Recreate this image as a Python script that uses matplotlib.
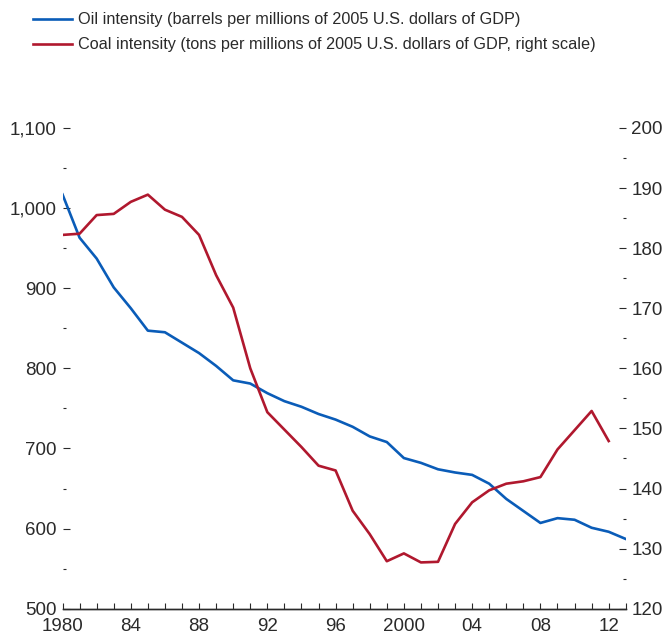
import matplotlib.pyplot as plt
from matplotlib.ticker import MultipleLocator, FuncFormatter

years = list(range(1980, 2014))

# barrels per million 2005 USD of GDP (left axis)
oil = [1017, 963, 937, 901, 875, 847, 845, 832, 819, 803,
       785, 781, 769, 759, 752, 743, 736, 727, 715, 708,
       688, 682, 674, 670, 667, 656, 637, 622, 607, 613,
       611, 601, 596, 587]

# tons per million 2005 USD of GDP (right axis)
coal_years = list(range(1980, 2013))
coal = [182.2, 182.4, 185.5, 185.7, 187.7, 188.9, 186.4, 185.2, 182.2, 175.5,
        170.1, 160.0, 152.7, 149.8, 146.9, 143.8, 143.0, 136.3, 132.4, 127.9,
        129.2, 127.7, 127.8, 134.1, 137.7, 139.7, 140.8, 141.2, 141.9, 146.5,
        149.7, 152.9, 147.9]

oil_label = "Oil intensity (barrels per millions of 2005 U.S. dollars of GDP)"
coal_label = "Coal intensity (tons per millions of 2005 U.S. dollars of GDP, right scale)"
xtick_years = [1980, 1984, 1988, 1992, 1996, 2000, 2004, 2008, 2012]
xtick_labels = ["1980", "84", "88", "92", "96", "2000", "04", "08", "12"]

blue = "#0a5cb8"
red = "#b0182e"
txt = "#2a2a2a"

plt.rcParams['font.family'] = ['Liberation Sans', 'DejaVu Sans']

fig = plt.figure(figsize=(6.65, 6.41), dpi=100)
ax = fig.add_axes([0.094, 0.0504, 0.847, 0.75])
ax2 = ax.twinx()

l1, = ax.plot(years, oil, color=blue, lw=1.9, label=oil_label)
l2, = ax2.plot(coal_years, coal, color=red, lw=1.9, label=coal_label)

ax.set_xlim(1980, 2013)
ax.set_ylim(500, 1100)
ax2.set_ylim(120, 200)

for a in (ax, ax2):
    for s in ['top', 'left', 'right']:
        a.spines[s].set_visible(False)
    a.spines['bottom'].set_color(txt)
    a.spines['bottom'].set_linewidth(1.0)

ax.yaxis.set_major_locator(MultipleLocator(100))
ax.yaxis.set_minor_locator(MultipleLocator(50))
ax.yaxis.set_major_formatter(FuncFormatter(lambda v, p: f"{int(v):,}"))
ax2.yaxis.set_major_locator(MultipleLocator(10))
ax2.yaxis.set_minor_locator(MultipleLocator(5))

ax.set_xticks(xtick_years)
ax.set_xticklabels(xtick_labels)
ax.xaxis.set_minor_locator(MultipleLocator(1))

fs = 13.5
ax.tick_params(axis='x', which='both', direction='in', length=4.5, width=0.8,
               color=txt, labelsize=fs, labelcolor=txt, pad=7)
ax.tick_params(axis='y', which='major', direction='in', length=5, width=0.8,
               color=txt, labelsize=fs, labelcolor=txt, pad=4)
ax.tick_params(axis='y', which='minor', direction='in', length=2.2, width=0.8, color=txt)
ax2.tick_params(axis='y', which='major', direction='in', length=5, width=0.8,
                color=txt, labelsize=fs, labelcolor=txt, pad=4)
ax2.tick_params(axis='y', which='minor', direction='in', length=2.2, width=0.8, color=txt)

fig.legend(handles=[l1, l2], loc='upper left', bbox_to_anchor=(0.032, 1.0),
           frameon=False, fontsize=11.7, handlelength=2.4, handletextpad=0.35,
           labelspacing=0.62, borderaxespad=0.35, labelcolor=txt)

fig.savefig("out.png", dpi=100)
